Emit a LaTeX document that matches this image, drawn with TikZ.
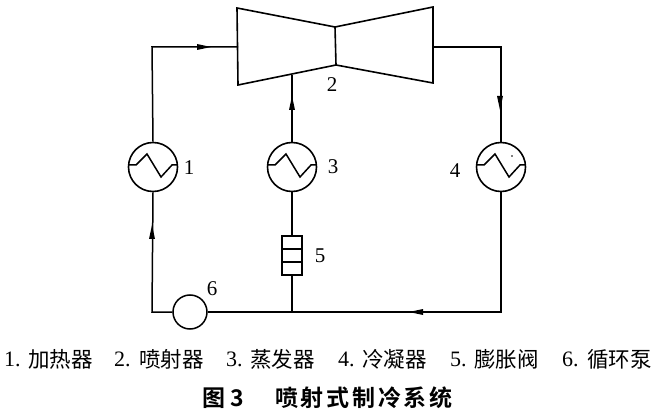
\documentclass[tikz,border=0pt]{standalone}
\usepackage{fontspec}
\setmainfont{Liberation Serif}
\newfontfamily\cjk{Noto Sans CJK SC}
\newfontfamily\cjkbold[LetterSpace=12]{Noto Sans CJK SC Bold}
\newfontfamily\cjkboldplain{Noto Sans CJK SC Bold}
\tikzset{
  pipe/.style={line width=1.5pt},
  part/.style={draw,line width=1.6pt},
  hx/.style={circle,draw,line width=1.6pt,minimum size=49pt,inner sep=0pt},
  tag/.style={font=\fontsize{21}{21}\selectfont,inner sep=0pt},
  itemnum/.style={font=\fontsize{22}{22}\selectfont,inner sep=0pt,anchor=west},
  itemtxt/.style={font=\cjk\fontsize{21.5}{21.5}\selectfont,inner sep=0pt,anchor=west},
  capstyle/.style={inner sep=0pt,anchor=west},
  tip/.style={fill=black,draw=none}
}
\newcommand{\zigzag}[1]{%
  \draw[line width=1.5pt,shift={(#1)}] (-24,2) -- (-17,2) -- (-6,13) -- (8,-10) -- (19,2) -- (24,2);}
\begin{document}
\begin{tikzpicture}[x=1pt,y=1pt]
\useasboundingbox (0,0) rectangle (655,415);
\draw[part] (237,407) -- (335,388) -- (336,350) -- (238,330) -- cycle;
\draw[part] (335,388) -- (433,408) -- (433,332) -- (336,350);
\coordinate (ejL) at (238,368);
\coordinate (ejB) at (292,340);
\coordinate (ejR) at (433,368);
\coordinate (c1) at (152,368);
\coordinate (c4) at (501,368);
\node[hx] (h1) at (153,248) {};
\node[hx] (h3) at (292,248) {};
\node[hx] (h4) at (501,248) {};
\zigzag{153,248}
\zigzag{292,248}
\zigzag{501,248}
\fill (512,259) circle (0.9pt);
\node[part,minimum width=20pt,minimum height=39pt,inner sep=0pt] (v) at (292,159.5) {};
\draw[part] (v.west |- 0,166) -- (v.east |- 0,166);
\draw[part] (v.west |- 0,153) -- (v.east |- 0,153);
\node[circle,draw,line width=1.5pt,minimum size=34pt,inner sep=0pt] (p) at (190,103) {};
\coordinate (bl) at (152,103);
\coordinate (br) at (501,103);
\coordinate (bm) at (292,103);
\draw[pipe] (h1.north) -- (c1) -- (ejL);
\draw[pipe] (h3.north) -- (ejB);
\draw[pipe] (ejR) -- (c4) -- (h4.north);
\draw[pipe] (h3.south) -- (v.north);
\draw[pipe] (v.south) -- (bm);
\draw[pipe] (h4.south) -- (br) -- (p.east);
\draw[pipe] (p.west) -- (bl) -- (h1.south);
\fill[tip] (211,368) -- (197,371) -- (197,365) -- cycle;
\fill[tip] (292,319) -- (289,305) -- (295,305) -- cycle;
\fill[tip] (500,305) -- (497,319) -- (503,319) -- cycle;
\fill[tip] (152,190) -- (149,176) -- (155,176) -- cycle;
\fill[tip] (409,103) -- (423,106) -- (423,100) -- cycle;
\node[tag] (n1) at (189,247) {1};
\node[tag] (n2) at (332,330) {2};
\node[tag] (n3) at (333,248) {3};
\node[tag] (n4) at (455,244) {4};
\node[tag] (n5) at (320,159) {5};
\node[tag] (n6) at (212,126) {6};
\node[itemnum] (l1) at (4,56) {1.};
\node[itemtxt] (t1) at (28,56) {加热器};
\node[itemnum] (l2) at (114,56) {2.};
\node[itemtxt] (t2) at (139,56) {喷射器};
\node[itemnum] (l3) at (226,56) {3.};
\node[itemtxt] (t3) at (250,56) {蒸发器};
\node[itemnum] (l4) at (338,56) {4.};
\node[itemtxt] (t4) at (362,56) {冷凝器};
\node[itemnum] (l5) at (450,56) {5.};
\node[itemtxt] (t5) at (474,56) {膨胀阀};
\node[itemnum] (l6) at (562,56) {6.};
\node[itemtxt] (t6) at (587,56) {循环泵};
\node[capstyle,font=\cjkboldplain\fontsize{23}{23}\selectfont] (cap1) at (202,17) {图};
\node[capstyle,font=\cjkboldplain\fontsize{23}{23}\selectfont] (cap2) at (230,17) {3};
\node[capstyle,font=\cjkbold\fontsize{23}{23}\selectfont] (cap3) at (275,17) {喷射式制冷系统};
\end{tikzpicture}
\end{document}
